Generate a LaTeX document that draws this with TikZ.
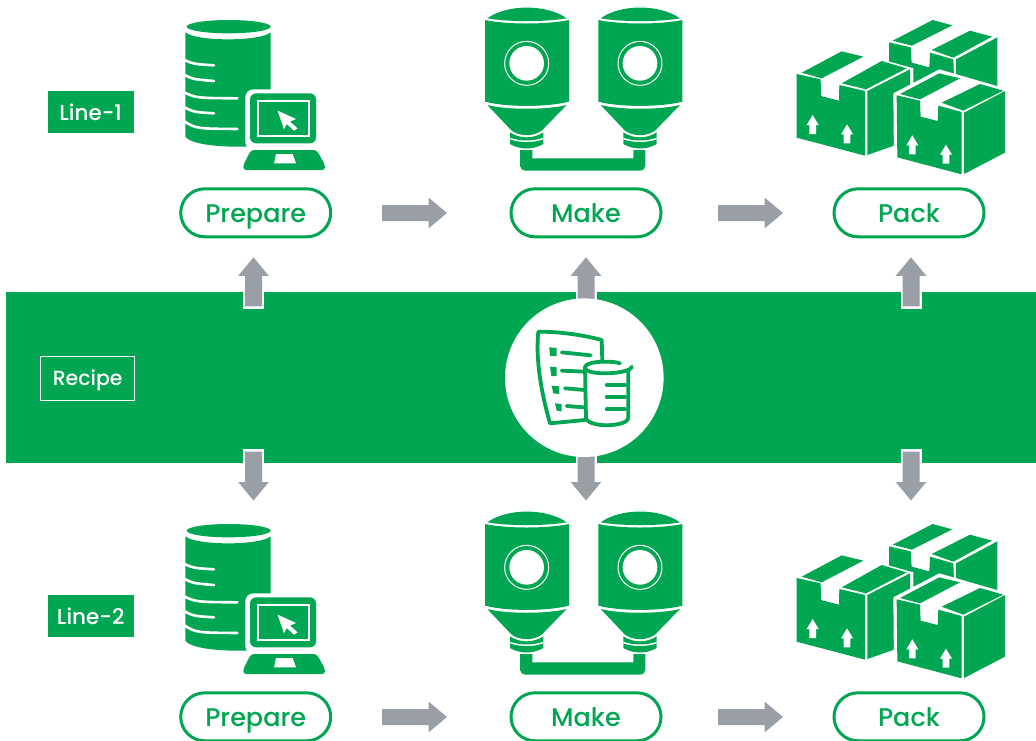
\documentclass[tikz,border=0pt]{standalone}
\usepackage{fontspec}
\setmainfont{Poppins Medium}
\definecolor{brand}{HTML}{00A651}
\definecolor{slate}{HTML}{9A9FA5}
\tikzset{
  zoomed/.style={x=0.33333pt,y=-0.33333pt},
  pill/.style={draw=brand,line width=3pt,rounded corners=24pt,minimum width=150pt,minimum height=48pt,inner sep=0pt,text=brand,text height=19.8pt,text depth=0pt,font=\fontsize{25.5}{25.5}\selectfont},
  tag/.style={fill=brand,text=white,inner sep=0pt,minimum width=86pt,minimum height=41.5pt,text height=16.4pt,text depth=0pt,font=\fontsize{21.5}{21.5}\selectfont},
  rtag/.style={draw=white,line width=1pt,fill=brand,text=white,inner sep=0pt,minimum width=94pt,minimum height=44pt,text height=12.6pt,text depth=0pt,font=\fontsize{20.5}{20.5}\selectfont},
  dbicon/.pic={
    \begin{scope}[zoomed]
      \fill[brand] (176,80) ellipse [x radius=126,y radius=20];
      \fill[brand] (46,97) .. controls (80,125) and (270,125) .. (302,97) -- (302,440) -- (230,440) .. controls (130,442) and (60,430) .. (46,410) -- cycle;
      \draw[white,line width=2.6pt,line cap=round] (44,180) .. controls (70,192) .. (132,196);
      \draw[white,line width=2.6pt,line cap=round] (44,225) .. controls (70,238) .. (132,243);
      \draw[white,line width=2.6pt,line cap=round] (44,278) .. controls (80,294) .. (202,295);
      \draw[white,line width=2.6pt,line cap=round] (44,322) .. controls (70,336) .. (132,340);
      \draw[white,line width=2.6pt,line cap=round] (44,365) .. controls (80,386) .. (202,387);
      \fill[white,rounded corners=8pt] (226,268) rectangle (455,450);
      \fill[brand,rounded corners=6pt] (240,280) rectangle (438,430);
      \draw[white,line width=1.8pt] (264,304) rectangle (416,408);
      \fill[white] (323,332) -- (378,357) -- (360,365) -- (383,385) -- (372,392) -- (350,372) -- (342,388) -- cycle;
      \fill[brand,rounded corners=3pt] (243,450) -- (440,450) -- (465,495) -- (465,510) -- (220,510) -- (220,495) -- cycle;
      \fill[white] (318,462) -- (368,462) -- (378,490) -- (312,490) -- cycle;
    \end{scope}
  },
  siloicon/.pic={
    \begin{scope}[zoomed]
      \fill[brand,rounded corners=0pt] (150,450) -- (187,450) -- (187,475) -- (490,475) -- (490,450) -- (526,450) -- (526,495) [rounded corners=5pt] -- (526,512) -- (150,512) [rounded corners=0pt] -- (150,495) -- cycle;
      \foreach \s in {0,340} {
        \begin{scope}[shift={(\s,0)}]
          \fill[brand] (52,55) .. controls (110,12) and (230,12) .. (290,55) .. controls (230,66) and (110,66) .. cycle;
          \fill[brand] (45,60) .. controls (110,74) and (230,74) .. (297,60) -- (297,305) .. controls (230,322) and (110,322) .. (45,305) -- cycle;
          \fill[brand] (52,315) .. controls (110,330) and (230,330) .. (290,315) -- (215,392) .. controls (190,410) and (150,410) .. (125,392) -- cycle;
          \fill[brand] (120,397) .. controls (150,417) and (190,417) .. (220,397) -- (220,413) .. controls (190,424) and (150,424) .. (120,413) -- cycle;
          \fill[brand] (120,418) .. controls (150,429) and (190,429) .. (220,418) -- (220,432) .. controls (190,450) and (150,450) .. (120,432) -- cycle;
          \fill[white] (170,190) circle (52);
          \draw[white,line width=1pt] (170,190) circle (66);
        \end{scope}
      }
    \end{scope}
  },
  boxicon/.pic={
    \begin{scope}[zoomed]
      \fill[brand] (308,92) -- (428,30) -- (487,46) -- (365,107) -- cycle;
      \fill[brand] (425,120) -- (540,62) -- (606,80) -- (490,143) -- cycle;
      \fill[brand] (297,97) -- (362,112) -- (365,158) -- (418,172) -- (420,128) -- (490,148) -- (492,200) -- (297,300) -- cycle;
      \fill[brand] (498,148) -- (622,82) -- (622,240) -- (498,240) -- cycle;
      \fill[white] (10,185) -- (155,115) -- (370,175) -- (370,420) -- (225,445) -- (10,390) -- cycle;
      \fill[brand] (35,188) -- (155,124) -- (220,140) -- (95,205) -- cycle;
      \fill[brand] (155,220) -- (275,153) -- (350,175) -- (228,238) -- cycle;
      \fill[brand] (20,192) -- (92,208) -- (93,258) -- (147,272) -- (148,225) -- (225,243) -- (225,437) -- (20,383) -- cycle;
      \fill[brand] (232,243) -- (360,178) -- (360,390) -- (232,435) -- cycle;
      \fill[white] (310,250) -- (448,178) -- (655,238) -- (655,432) -- (520,503) -- (312,450) -- cycle;
      \fill[brand] (330,252) -- (448,190) -- (510,205) -- (390,268) -- cycle;
      \fill[brand] (455,278) -- (570,222) -- (640,242) -- (520,302) -- cycle;
      \fill[brand] (320,256) -- (390,272) -- (392,320) -- (443,333) -- (445,287) -- (515,306) -- (515,493) -- (322,442) -- cycle;
      \fill[brand] (522,308) -- (645,243) -- (645,428) -- (522,492) -- cycle;
      \foreach \ax/\ay in {68/315,171/343,367/376,468/404} {
        \fill[white] (\ax,\ay) -- ++(18,30) -- ++(-8,0) -- ++(0,27) -- ++(-20,0) -- ++(0,-27) -- ++(-8,0) -- cycle;
      }
    \end{scope}
  },
  recipeicon/.pic={
    \begin{scope}[zoomed]
      \begin{scope}[brand,line width=3.8pt,line join=round,line cap=round]
        \draw (337,335) -- (335,270) .. controls (280,255) and (210,245) .. (145,245) .. controls (135,340) and (160,450) .. (180,520) -- (285,510);
        \draw (215,307) -- (302,316);
        \draw (215,362) -- (285,365);
        \draw (225,415) -- (285,420);
        \draw (230,468) -- (280,472);
        \draw (425,350) .. controls (425,372) and (285,380) .. (285,352) .. controls (285,332) and (370,332) .. (390,340);
        \draw (285,352) -- (288,505) .. controls (300,535) and (410,530) .. (415,505) -- (415,362);
        \draw (350,405) -- (405,405);
        \draw (350,440) -- (405,440);
        \draw (350,478) -- (405,478);
      \end{scope}
      \fill[brand] (178,292) -- (200,294) -- (200,318) -- (180,318) -- cycle;
      \fill[brand] (180,350) -- (200,352) -- (200,378) -- (184,378) -- cycle;
      \fill[brand] (185,407) -- (207,409) -- (207,432) -- (190,430) -- cycle;
      \fill[brand] (195,460) -- (215,462) -- (215,484) -- (200,482) -- cycle;
    \end{scope}
  },
  harrow/.pic={
    \fill[slate] (0,-8) -- (46.5,-8) -- (46.5,-15.5) -- (65,0) -- (46.5,15.5) -- (46.5,8) -- (0,8) -- cycle;
  },
  uparrow/.pic={
    \fill[white] (-10.5,51.5) -- (-10.5,20) -- (10.5,20) -- (10.5,51.5) -- cycle;
    \fill[slate] (0,0) -- (15.3,18.5) -- (8.5,18.5) -- (8.5,49) -- (-8.5,49) -- (-8.5,18.5) -- (-15.3,18.5) -- cycle;
  },
  downarrow/.pic={
    \fill[white] (-10.5,-51.5) -- (-10.5,-20) -- (10.5,-20) -- (10.5,-51.5) -- cycle;
    \fill[slate] (0,0) -- (15.3,-18.5) -- (8.5,-18.5) -- (8.5,-49) -- (-8.5,-49) -- (-8.5,-18.5) -- (-15.3,-18.5) -- cycle;
  }
}
\begin{document}
\begin{tikzpicture}[x=1pt,y=-1pt]
  \clip (0,0) rectangle (1036,740);
  \fill[white] (0,0) rectangle (1036,740);
  \fill[brand] (6,292) rectangle (1036,463);
  \foreach \ax in {253.5,586,911} {
    \pic at (\ax,257.3) {uparrow};
    \pic at (\ax,500.5) {downarrow};
  }
  \node[circle,fill=white,minimum size=158.6pt,inner sep=0pt] (hub) at (584.3,377.7) {};
  \pic at (490,250) {recipeicon};
  \node[rtag] (recipe) at (87.7,378.7) {Recipe};
  \foreach \r/\dy/\lab in {a/0/Line-1,b/504/Line-2} {
    \node[tag] (tag\r) at (90.7,111.8+\dy) {\lab};
    \pic at (170,\dy) {dbicon};
    \pic at (470,\dy) {siloicon};
    \pic at (790,10+\dy) {boxicon};
    \node[pill] (prep\r) at (255.7,212.8+\dy) {Prepare};
    \node[pill] (make\r) at (586,212.8+\dy) {Make};
    \node[pill] (pack\r) at (909,212.8+\dy) {Pack};
    \pic at (382,213+\dy) {harrow};
    \pic at (718,213+\dy) {harrow};
  }
\end{tikzpicture}
\end{document}
